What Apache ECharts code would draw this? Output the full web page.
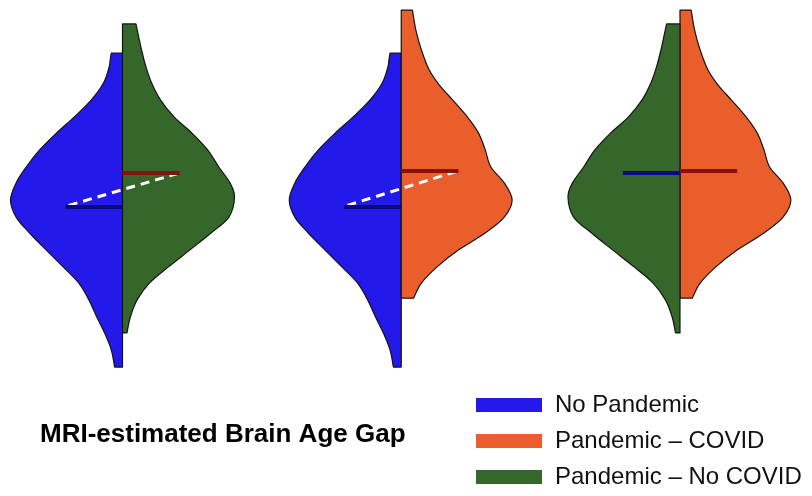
<!DOCTYPE html>
<html><head><meta charset="utf-8">
<script src="https://cdn.jsdelivr.net/npm/echarts@6/dist/echarts.min.js"></script>
<style>html,body{margin:0;padding:0;background:#fff}#c{width:812px;height:496px}</style>
</head><body><div id="c"></div>
<script>
// ---- data ----
const groupNames = ['No Pandemic', 'Pandemic – COVID', 'Pandemic – No COVID'];
const groupColors = ['#2319E8', '#EA5E2B', '#35662A'];

// density profiles (gap values top -> bottom, relative density)
const noPandemicGap = [4.90, 4.67, 4.43, 3.90, 3.33, 2.77, 2.23, 1.67, 1.10, 0.57, 0.00, -0.57, -1.10, -1.67, -2.23, -2.77, -3.33, -3.90, -4.43, -5.00, -5.57];
const noPandemicDensity = [0.10, 0.11, 0.12, 0.17, 0.28, 0.43, 0.59, 0.74, 0.86, 0.95, 1.00, 0.95, 0.83, 0.68, 0.53, 0.39, 0.30, 0.23, 0.16, 0.10, 0.07];

const covidGap = [6.33, 5.67, 5.00, 4.33, 3.83, 3.33, 2.77, 2.23, 1.67, 1.10, 0.57, 0.00, -0.57, -1.10, -1.67, -2.23, -2.77, -3.27];
const covidDensity = [0.10, 0.13, 0.18, 0.25, 0.34, 0.46, 0.59, 0.69, 0.75, 0.80, 0.92, 0.99, 0.92, 0.75, 0.51, 0.32, 0.18, 0.11];

const noCovidGap = [5.87, 5.00, 4.43, 3.90, 3.33, 2.77, 2.23, 1.67, 1.10, 0.57, 0.10, -0.57, -1.10, -1.67, -2.23, -2.77, -3.33, -3.90, -4.43];
const noCovidDensity = [0.12, 0.17, 0.21, 0.26, 0.34, 0.46, 0.62, 0.76, 0.86, 0.96, 1.00, 0.95, 0.79, 0.60, 0.41, 0.24, 0.13, 0.07, 0.04];

const groupMedians = [-0.23, 0.97, 0.90];

// comparisons: violin position, left group, right group
const violinPositions = [1, 2, 3];
const violinLeftGroup = [0, 0, 2];
const violinRightGroup = [2, 1, 1];
const showConnector = [true, true, false];

const titleText = 'MRI-estimated Brain Age Gap';

// ---- chart ----
const profiles = [
  [noPandemicGap, noPandemicDensity],
  [covidGap, covidDensity],
  [noCovidGap, noCovidDensity]
];
const HALF = 0.4018;     // max half width in x units
const MED_LEN = 0.205;   // median line length

// smooth outline through the profile points (Catmull-Rom -> cubic Bezier)
function smoothPath(center, pts, bottom) {
  let d = 'M' + center[0] + ',' + center[1] + 'L' + pts[0][0] + ',' + pts[0][1];
  for (let i = 0; i < pts.length - 1; i++) {
    const p0 = pts[Math.max(i - 1, 0)], p1 = pts[i], p2 = pts[i + 1], p3 = pts[Math.min(i + 2, pts.length - 1)];
    const t = 1 / 6;
    const c1 = [p1[0] + (p2[0] - p0[0]) * t, p1[1] + (p2[1] - p0[1]) * t];
    const c2 = [p2[0] - (p3[0] - p1[0]) * t, p2[1] - (p3[1] - p1[1]) * t];
    d += 'C' + c1[0] + ',' + c1[1] + ' ' + c2[0] + ',' + c2[1] + ' ' + p2[0] + ',' + p2[1];
  }
  d += 'L' + bottom[0] + ',' + bottom[1] + 'Z';
  return d;
}

function violinRenderer(g) {
  const gap = profiles[g][0], dens = profiles[g][1];
  return function (params, api) {
    const c = api.value(0), side = api.value(1);
    const top = api.coord([c, gap[0]]);
    const bot = api.coord([c, gap[gap.length - 1]]);
    const pts = [];
    for (let i = 0; i < gap.length; i++) pts.push(api.coord([c + side * dens[i] * HALF, gap[i]]));
    return {
      type: 'path',
      shape: { pathData: smoothPath(top, pts, bot), layout: 'center' },
      style: { fill: groupColors[g], stroke: '#141414', lineWidth: 1.2, lineJoin: 'round' }
    };
  };
}

const series = [];
groupNames.forEach((name, g) => {
  const data = [];
  violinPositions.forEach((p, i) => {
    if (violinLeftGroup[i] === g) data.push([p, -1]);
    if (violinRightGroup[i] === g) data.push([p, 1]);
  });
  series.push({
    name: name, type: 'custom', coordinateSystem: 'cartesian2d', clip: false,
    itemStyle: { color: groupColors[g] },
    renderItem: violinRenderer(g), data: data, silent: true
  });
});

// dashed connectors between medians
const connData = [];
violinPositions.forEach((p, i) => {
  if (showConnector[i]) connData.push([p, groupMedians[violinLeftGroup[i]], groupMedians[violinRightGroup[i]]]);
});
series.push({
  type: 'custom', coordinateSystem: 'cartesian2d', clip: false, silent: true,
  data: connData,
  renderItem: function (params, api) {
    const c = api.value(0);
    const a = api.coord([c - MED_LEN + 0.012, api.value(1) + 0.05]);
    const b = api.coord([c + MED_LEN - 0.008, api.value(2) - 0.02]);
    return { type: 'line', shape: { x1: a[0], y1: a[1], x2: b[0], y2: b[1] },
      style: { stroke: '#ffffff', lineWidth: 3, lineDash: [9, 6] } };
  }
});

// median lines
const medData = [];
violinPositions.forEach((p, i) => {
  medData.push([p, groupMedians[violinLeftGroup[i]], -1]);
  medData.push([p, groupMedians[violinRightGroup[i]], 1]);
});
series.push({
  type: 'custom', coordinateSystem: 'cartesian2d', clip: false, silent: true,
  data: medData,
  renderItem: function (params, api) {
    const c = api.value(0), m = api.value(1), side = api.value(2);
    const a = api.coord([c, m]);
    const b = api.coord([c + side * MED_LEN, m]);
    return { type: 'line', shape: { x1: a[0], y1: a[1], x2: b[0], y2: b[1] },
      style: { stroke: side < 0 ? '#0A0A84' : '#8A1010', lineWidth: 4 } };
  }
});

const chart = echarts.init(document.getElementById('c'), null, { renderer: 'canvas' });
chart.setOption({
  animation: false,
  backgroundColor: '#ffffff',
  title: {
    text: titleText, left: 40, top: 422, padding: 0,
    textStyle: { fontFamily: 'Liberation Sans', fontWeight: 'bold', fontSize: 26, color: '#000' }
  },
  legend: {
    data: groupNames, orient: 'vertical', left: 476, top: 393, padding: 0,
    icon: 'rect', itemWidth: 66, itemHeight: 14, itemGap: 12, selectedMode: false,
    textStyle: { fontFamily: 'Liberation Sans', fontSize: 24, lineHeight: 24, color: '#111', padding: [0, 0, 0, 8] }
  },
  grid: { left: 0, right: 0, top: 5, bottom: 116 },
  xAxis: { type: 'value', min: 0.5605, max: 3.4736, show: false },
  yAxis: { type: 'value', min: -6, max: 6.5, show: false },
  series: series
});
</script>
</body></html>
